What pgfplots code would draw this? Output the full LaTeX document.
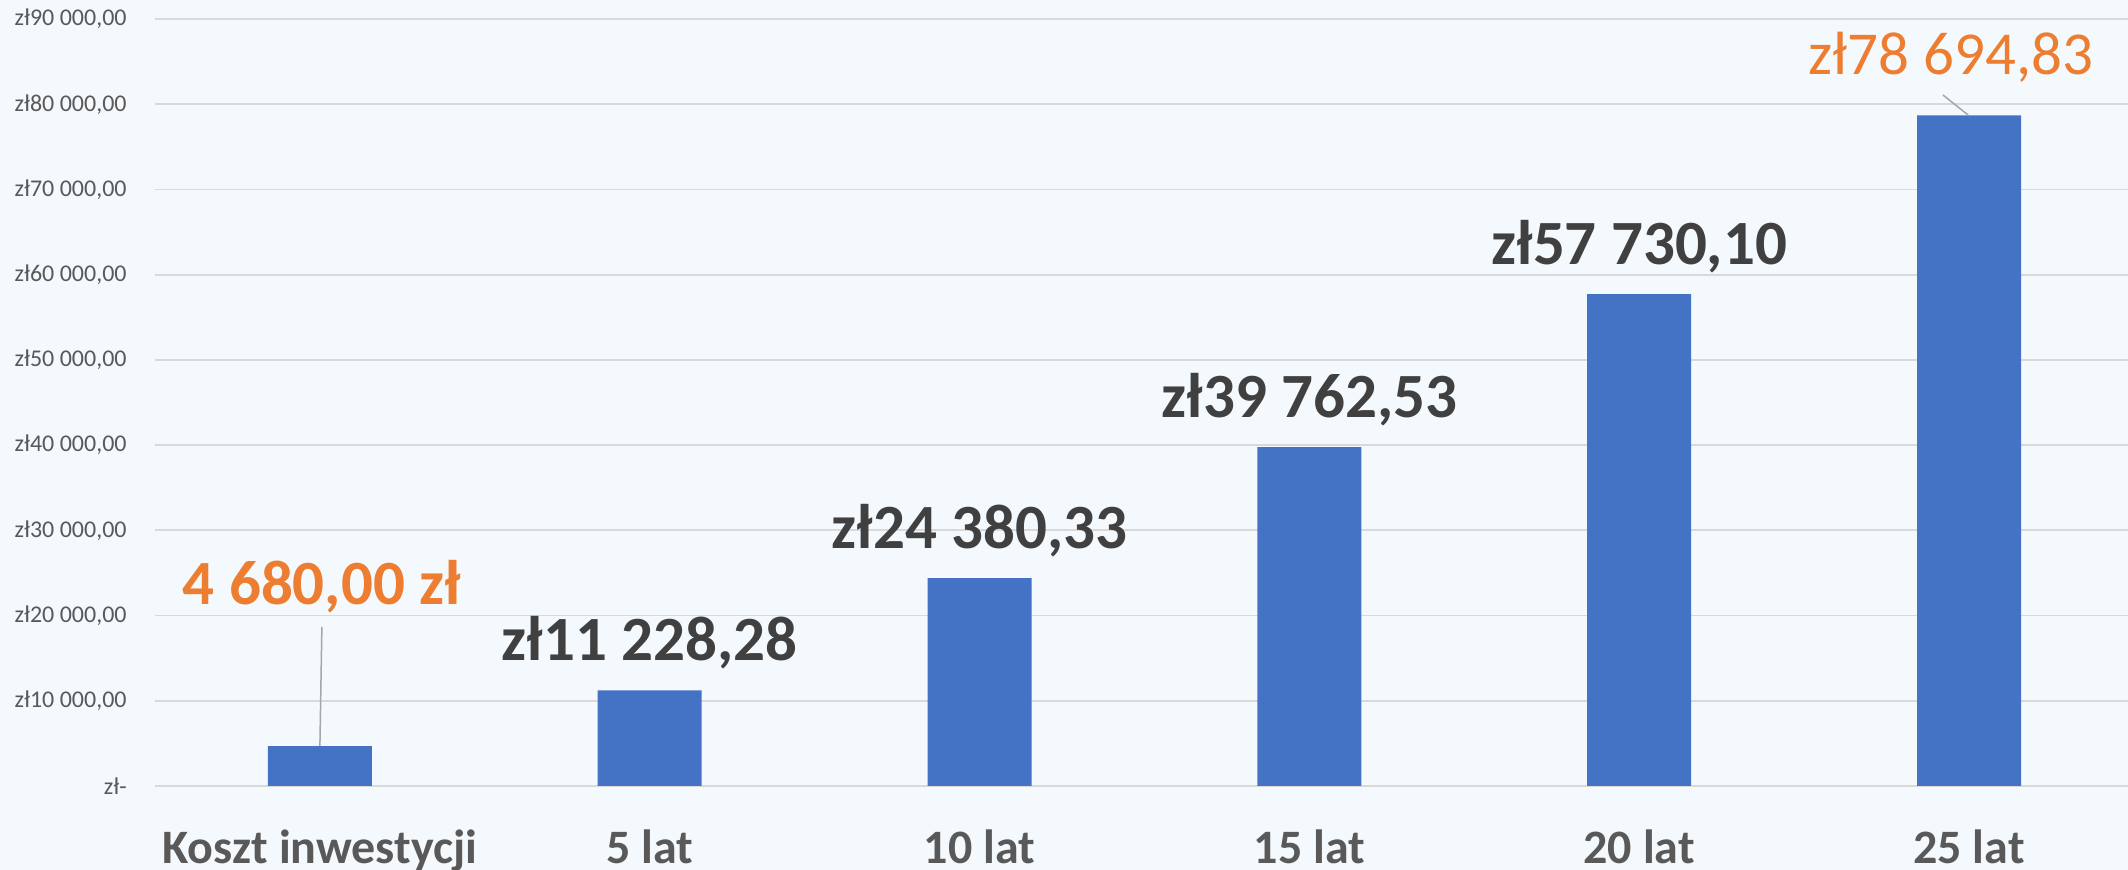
\documentclass[border=0pt]{standalone}
\usepackage{pgfplots}
\pgfplotsset{compat=1.18}
\usepackage{fontspec}
\setmainfont{Carlito}
\usetikzlibrary{backgrounds,calc}
\definecolor{bg}{RGB}{244,249,253}
\definecolor{barc}{RGB}{68,114,196}
\definecolor{gridc}{RGB}{217,217,217}
\definecolor{tickc}{RGB}{89,89,89}
\definecolor{darkc}{RGB}{64,64,64}
\definecolor{orangec}{RGB}{237,125,49}
\definecolor{leaderc}{RGB}{166,166,166}
\begin{document}
\begin{tikzpicture}
\begin{axis}[
  scale only axis, width=986.5pt, height=383.5pt,
  xmin=-0.5, xmax=5.482, ymin=0, ymax=90000,
  axis line style={draw=none}, tick style={draw=none},
  ymajorgrids, grid style={color=gridc, line width=0.9pt},
  ytick={0,10000,20000,30000,40000,50000,60000,70000,80000,90000},
  yticklabels={{zł-\hspace{6pt}},{zł10 000,00},{zł20 000,00},{zł30 000,00},{zł40 000,00},{zł50 000,00},{zł60 000,00},{zł70 000,00},{zł80 000,00},{zł90 000,00}},
  yticklabel style={font=\fontsize{12}{14}\selectfont, text=tickc, anchor=east, inner sep=0pt, xshift=-14pt},
  xtick={0,1,2,3,4,5},
  xticklabels={Koszt inwestycji,5 lat,10 lat,15 lat,20 lat,25 lat},
  xticklabel style={font=\bfseries\fontsize{24}{28}\selectfont, text=tickc, anchor=base, inner sep=0pt, yshift=-34.5pt},
  clip=false,
  ybar, bar width=52pt,
]
\addplot[fill=barc, draw=none, bar shift=0pt] coordinates {(0,4680) (1,11228.28) (2,24380.33) (3,39762.53) (4,57730.10) (5,78694.83)};
\coordinate (BL) at (rel axis cs:0,0);
\coordinate (TR) at (rel axis cs:1,1);
\draw[leaderc, line width=0.75pt] (axis cs:0.006,18660) -- (axis cs:0,4690);
\draw[leaderc, line width=0.75pt] (axis cs:4.921,81080) -- (axis cs:4.997,78740);
\node[font=\bfseries\fontsize{31.5}{36}\selectfont, text=orangec, anchor=base, inner sep=0pt] at (axis cs:0.006,21240) {4 680,00 zł};
\node[font=\bfseries\fontsize{31.5}{36}\selectfont, text=darkc, anchor=base, inner sep=0pt, yshift=15pt] at (axis cs:1,11228.28) {zł11 228,28};
\node[font=\bfseries\fontsize{31.5}{36}\selectfont, text=darkc, anchor=base, inner sep=0pt, yshift=15pt] at (axis cs:2,24380.33) {zł24 380,33};
\node[font=\bfseries\fontsize{31.5}{36}\selectfont, text=darkc, anchor=base, inner sep=0pt, yshift=15pt] at (axis cs:3,39762.53) {zł39 762,53};
\node[font=\bfseries\fontsize{31.5}{36}\selectfont, text=darkc, anchor=base, inner sep=0pt, yshift=15pt] at (axis cs:4,57730.10) {zł57 730,10};
\node[font=\fontsize{30.5}{35}\selectfont, text=orangec, anchor=base, inner sep=0pt] at (axis cs:4.945,83430) {zł78 694,83};
\end{axis}
\coordinate (P1) at ($(BL)+(-77.5pt,-42pt)$);
\coordinate (P2) at ($(TR)+(0pt,9.5pt)$);
\begin{scope}[on background layer]
\fill[bg] (P1) rectangle (P2);
\end{scope}
\pgfresetboundingbox
\useasboundingbox (P1) rectangle (P2);
\end{tikzpicture}
\end{document}
